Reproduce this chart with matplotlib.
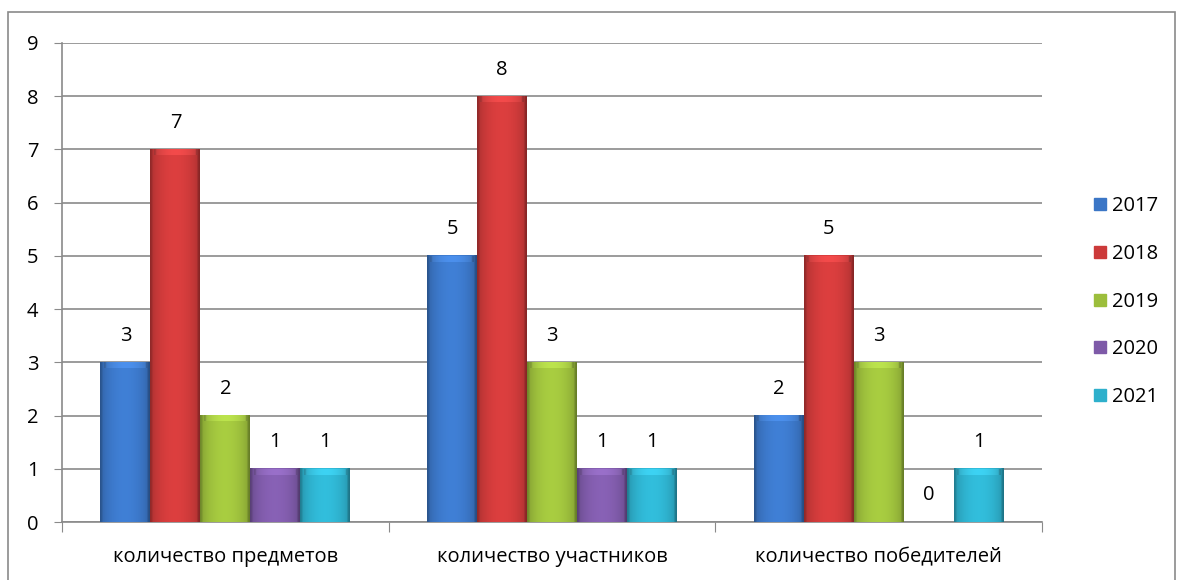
import numpy as np
import matplotlib.pyplot as plt
from matplotlib.patches import Rectangle

plt.rcParams['font.family'] = ['Open Sans', 'DejaVu Sans']

categories = ['количество предметов', 'количество участников', 'количество победителей']
years = ['2017', '2018', '2019', '2020', '2021']
values = {
    '2017': [3, 5, 2],
    '2018': [7, 8, 5],
    '2019': [2, 3, 3],
    '2020': [1, 1, 0],
    '2021': [1, 1, 1],
}
colors = ['#3b76c6', '#cc3a3a', '#9cbe3c', '#7e5aa8', '#2eb0cc']

fig = plt.figure(figsize=(11.77, 5.8), dpi=100)
ax = fig.add_axes([0.0527, 0.1, 0.8326, 0.8259])

# outer frame of the chart
fig.patches.append(Rectangle((0.007, -0.05), 0.991, 1.029, transform=fig.transFigure,
                             fill=False, edgecolor='#8a8a8a', linewidth=1.2))

x = np.arange(len(categories))
w = 0.153

# horizontal shading profile to mimic the bevelled bars
prof = np.linspace(0, 1, 60)
shade = 0.8 + 0.28 * np.sin(np.pi * prof) ** 0.6
shade[:3] *= 0.88
shade[-3:] *= 0.82

for i, yr in enumerate(years):
    vals = values[yr]
    pos = x + (i - 2) * w
    rgb = np.array(plt.matplotlib.colors.to_rgb(colors[i]))
    img = np.clip(rgb[None, None, :] * shade[None, :, None], 0, 1)
    for p, v in zip(pos, vals):
        if v > 0:
            ax.imshow(img, extent=(p - w / 2, p + w / 2, 0, v), aspect='auto', zorder=3,
                      interpolation='bilinear')
            top = np.clip(img * 1.07 + 0.03, 0, 1)
            ax.imshow(top, extent=(p - w / 2 + 0.01, p + w / 2 - 0.01, v - 0.11, v - 0.01),
                      aspect='auto', zorder=4, interpolation='bilinear')
        ax.text(p, v + 0.5, str(v), ha='center', va='center', fontsize=14.5, color='black', zorder=5)

ax.set_xlim(-0.5, 2.5)
ax.set_ylim(0, 9)
ax.set_yticks(range(10))
ax.tick_params(axis='y', labelsize=14.5, length=6, color='#8a8a8a', pad=11)
ax.set_xticks([-0.5, 0.5, 1.5, 2.5])
ax.set_xticklabels([])
ax.tick_params(axis='x', length=7, color='#8a8a8a', direction='out')
ax.set_xticks(x, minor=True)
ax.set_xticklabels(categories, minor=True, fontsize=14.5)
ax.tick_params(axis='x', which='minor', length=0, pad=18)
ax.grid(axis='y', color='#8a8a8a', linewidth=1.2, zorder=0)
ax.set_axisbelow(True)
for s in ['top', 'right']:
    ax.spines[s].set_visible(False)
ax.spines['left'].set_color('#8a8a8a')
ax.spines['bottom'].set_color('#8a8a8a')
ax.spines['left'].set_linewidth(1.2)
ax.spines['bottom'].set_linewidth(1.2)

handles = [plt.Line2D([], [], marker='s', linestyle='none', markersize=9,
                      markerfacecolor=c, markeredgecolor=c) for c in colors]
ax.legend(handles, years, loc='center left', bbox_to_anchor=(1.03, 0.46), frameon=False,
          fontsize=14.5, handletextpad=0.1, labelspacing=1.38, handlelength=1.0)

fig.savefig('out.png', dpi=100)
